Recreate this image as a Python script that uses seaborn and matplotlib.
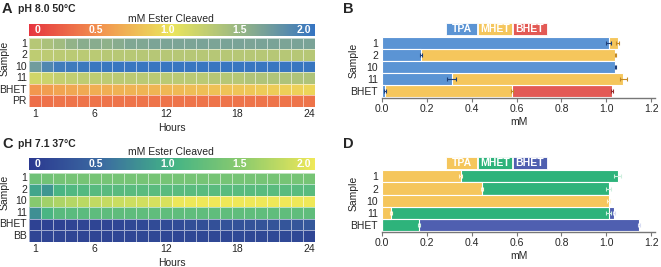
import numpy as np
import pandas as pd
import matplotlib
matplotlib.use("Agg")
import matplotlib.pyplot as plt
from matplotlib.colors import LinearSegmentedColormap
from matplotlib.patches import Rectangle
import seaborn as sns

# ---------------- data ----------------
hours = list(range(1, 25))
hour_ticks = [1, 6, 12, 18, 24]
cbar_ticks = [0, 0.5, 1.0, 1.5, 2.0]
cbar_labels = ["0", "0.5", "1.0", "1.5", "2.0"]

samples_A = ["1", "2", "10", "11", "BHET", "PR"]
A_1 = [1.30, 1.36, 1.42, 1.50, 1.55, 1.56, 1.52, 1.56, 1.60, 1.60, 1.62, 1.62,
       1.62, 1.62, 1.63, 1.62, 1.63, 1.63, 1.62, 1.63, 1.63, 1.62, 1.63, 1.63]
A_2 = [1.25, 1.26, 1.27, 1.28, 1.28, 1.28, 1.29, 1.29, 1.29, 1.30, 1.30, 1.30,
       1.30, 1.30, 1.30, 1.30, 1.30, 1.30, 1.30, 1.30, 1.30, 1.30, 1.30, 1.30]
A_10 = [1.68, 1.85, 1.93, 1.95, 1.96, 1.97, 1.97, 1.98, 1.98, 1.98, 1.98, 1.98,
        1.98, 1.98, 1.98, 1.98, 1.98, 1.98, 1.98, 1.98, 1.98, 1.98, 1.98, 1.98]
A_11 = [1.15, 1.18, 1.22, 1.24, 1.25, 1.25, 1.26, 1.27, 1.27, 1.28, 1.28, 1.28,
        1.28, 1.28, 1.28, 1.30, 1.30, 1.30, 1.33, 1.34, 1.34, 1.35, 1.35, 1.35]
A_BHET = [0.52, 0.56, 0.60, 0.62, 0.64, 0.66, 0.66, 0.68, 0.69, 0.70, 0.71, 0.72,
          0.74, 0.75, 0.76, 0.78, 0.79, 0.80, 0.82, 0.84, 0.85, 0.86, 0.88, 0.90]
A_PR = [0.30, 0.32, 0.33, 0.33, 0.33, 0.33, 0.33, 0.33, 0.33, 0.33, 0.33, 0.33,
        0.33, 0.33, 0.33, 0.33, 0.33, 0.33, 0.33, 0.33, 0.33, 0.33, 0.33, 0.33]

samples_C = ["1", "2", "10", "11", "BHET", "BB"]
C_1 = [1.30, 1.32, 1.34, 1.35, 1.35, 1.35, 1.35, 1.35, 1.35, 1.35, 1.35, 1.35,
       1.35, 1.35, 1.35, 1.35, 1.35, 1.35, 1.35, 1.35, 1.35, 1.35, 1.35, 1.35]
C_2 = [0.90, 0.80, 1.05, 1.10, 1.12, 1.14, 1.15, 1.15, 1.16, 1.16, 1.16, 1.16,
       1.16, 1.16, 1.16, 1.16, 1.16, 1.16, 1.16, 1.16, 1.16, 1.16, 1.16, 1.16]
C_10 = [1.45, 1.60, 1.66, 1.70, 1.73, 1.76, 1.78, 1.80, 1.82, 1.84, 1.86, 1.88,
        1.98, 1.99, 2.00, 2.00, 2.00, 2.00, 2.00, 2.00, 2.00, 2.00, 2.00, 2.00]
C_11 = [0.75, 1.05, 1.15, 1.16, 1.17, 1.18, 1.18, 1.19, 1.19, 1.20, 1.20, 1.20,
        1.20, 1.20, 1.20, 1.20, 1.20, 1.20, 1.20, 1.20, 1.20, 1.20, 1.20, 1.20]
C_BHET = [0.10, 0.10, 0.10, 0.11, 0.12, 0.12, 0.13, 0.14, 0.15, 0.17, 0.18, 0.19,
          0.20, 0.22, 0.22, 0.24, 0.25, 0.26, 0.27, 0.28, 0.28, 0.29, 0.30, 0.32]
C_BB = [0.12, 0.12, 0.12, 0.13, 0.12, 0.12, 0.13, 0.14, 0.14, 0.15, 0.15, 0.16,
        0.14, 0.15, 0.16, 0.16, 0.16, 0.17, 0.16, 0.16, 0.17, 0.17, 0.16, 0.12]

bar_samples = ["1", "2", "10", "11", "BHET"]
components = ["TPA", "MHET", "BHET"]
# panel B (pH 8.0) segment lengths in mM
B_TPA = [1.01, 0.175, 1.04, 0.31, 0.012]
B_MHET = [0.04, 0.865, 0.0, 0.765, 0.568]
B_BHET = [0.0, 0.0, 0.0, 0.0, 0.445]
B_TPA_err = [0.012, 0.004, 0.003, 0.02, 0.004]
B_MHET_err = [0.005, 0.003, 0.0, 0.015, 0.003]
B_BHET_err = [0.0, 0.0, 0.0, 0.0, 0.004]
# panel D (pH 7.1)
D_TPA = [0.35, 0.445, 1.01, 0.04, 0.0]
D_MHET = [0.70, 0.565, 0.0, 0.97, 0.165]
D_BHET = [0.0, 0.0, 0.0, 0.025, 0.98]
D_TPA_err = [0.005, 0.005, 0.008, 0.003, 0.0]
D_MHET_err = [0.015, 0.01, 0.0, 0.01, 0.003]
D_BHET_err = [0.0, 0.0, 0.0, 0.005, 0.005]

# ---------------- style ----------------
sns.set_style("white")
plt.rcParams["font.family"] = ["Liberation Sans", "DejaVu Sans"]

W, H = 661, 267
fig = plt.figure(figsize=(W / 100, H / 100), dpi=100)
FS = 7.5


def rect(x0, y0, x1, y1):
    """pixel box (top-left origin) -> figure fraction rect"""
    return [x0 / W, 1 - y1 / H, (x1 - x0) / W, (y1 - y0) / H]


cmap_A = LinearSegmentedColormap.from_list(
    "A", ["#e6353f", "#f2944f", "#ebe55c", "#93b487", "#3574c2"])
cmap_C = LinearSegmentedColormap.from_list(
    "C", ["#2b3990", "#3b6aa1", "#42b386", "#8dcb6d", "#efe858"])


def heat(ax_box, cax_box, samples, rows, cmap, top):
    ax = fig.add_axes(rect(*ax_box))
    cax = fig.add_axes(rect(*cax_box))
    df = pd.DataFrame(rows, index=samples, columns=hours)
    sns.heatmap(df, ax=ax, cmap=cmap, vmin=0, vmax=2, cbar_ax=cax,
                cbar_kws={"orientation": "horizontal"},
                linewidths=0.7, linecolor=(1, 1, 1, 0.55),
                xticklabels=True, yticklabels=True)
    ax.set_xticks([hours.index(h) + 0.5 for h in hour_ticks])
    ax.set_xticklabels([str(h) for h in hour_ticks], rotation=0, fontsize=FS)
    ax.set_yticks([i + 0.5 for i in range(len(samples))])
    ax.set_yticklabels(samples, rotation=0, fontsize=FS)
    ax.tick_params(length=0, pad=1.5)
    ax.set_xlabel("Hours", fontsize=FS, labelpad=3)
    ax.set_ylabel("Sample", fontsize=FS)
    ax.yaxis.set_label_coords(-0.068, 0.71)
    cb = ax.collections[0].colorbar
    cb.outline.set_visible(False)
    cax.set_xticks([])
    cax.set_yticks([])
    for v, lab in zip(cbar_ticks, cbar_labels):
        ha = "left" if v == cbar_ticks[0] else ("right" if v == cbar_ticks[-1] else "center")
        off = 0.04 if ha == "left" else -0.03
        cax.text(v + off, 0.5, lab, color="white", fontsize=7.5, fontweight="bold",
                 ha=ha, va="center", transform=cax.get_xaxis_transform())
    fig.text(0.259, 1 - top / H, "mM Ester Cleaved", fontsize=FS,
             ha="center", va="center")
    return ax


heat((29, 38, 315, 107), (29, 24, 315, 36), samples_A,
     [A_1, A_2, A_10, A_11, A_BHET, A_PR], cmap_A, 18.5)
heat((29, 172.5, 315, 241.5), (29, 158.3, 315, 170), samples_C,
     [C_1, C_2, C_10, C_11, C_BHET, C_BB], cmap_C, 152)


def stacked(ax_box, segs, errs, colors, ecolors, leg_y):
    ax = fig.add_axes(rect(*ax_box))
    cums = np.cumsum(np.array(segs), axis=0)
    for i in range(len(components) - 1, -1, -1):
        sns.barplot(x=cums[i], y=bar_samples, orient="h", ax=ax,
                    color=colors[i], saturation=1, width=1.0,
                    edgecolor="white", linewidth=0.8, errorbar=None)
    for i in range(len(components)):
        for j in range(len(bar_samples)):
            if errs[i][j] > 0:
                ax.errorbar(cums[i][j], j, xerr=errs[i][j], fmt="none",
                            ecolor=ecolors[i], elinewidth=0.8, capsize=1.5,
                            capthick=0.8)
    ax.set_xlim(0, 1.217)
    ax.set_ylim(4.55, -0.52)
    ax.set_xticks([0, 0.2, 0.4, 0.6, 0.8, 1.0, 1.2])
    ax.set_xticklabels(["0.0", "0.2", "0.4", "0.6", "0.8", "1.0", "1.2"])
    ax.tick_params(axis="x", labelsize=FS, length=3, width=0.8, color="#777777",
                   pad=1.5, bottom=True)
    ax.tick_params(axis="y", labelsize=FS, length=0, pad=3)
    for s in ["top", "right", "left"]:
        ax.spines[s].set_visible(False)
    ax.spines["bottom"].set_color("#777777")
    ax.spines["bottom"].set_linewidth(1.0)
    ax.set_xlabel("mM", fontsize=FS, labelpad=2)
    ax.set_ylabel("Sample", fontsize=FS)
    ax.yaxis.set_label_coords(-0.085, 0.62)
    # legend boxes
    xs = [(446, 477), (478, 512), (513, 547)]
    for (x0, x1), c, lab in zip(xs, colors, components):
        fig.patches.append(Rectangle((x0 / W, 1 - (leg_y + 12) / H), (x1 - x0) / W,
                                     12 / H, transform=fig.transFigure,
                                     facecolor=c, edgecolor="white", lw=0.6))
        fig.text((x0 + x1) / 2 / W, 1 - (leg_y + 6) / H, lab, color="white",
                 fontsize=7.5, fontweight="bold", ha="center", va="center")
    return ax


stacked((382, 37, 655, 98), [B_TPA, B_MHET, B_BHET],
        [B_TPA_err, B_MHET_err, B_BHET_err],
        ["#5b94d4", "#f5c65c", "#e35a55"], ["#1f3f78", "#c48a25", "#9a2b2b"], 23)
stacked((382, 170, 655, 232), [D_TPA, D_MHET, D_BHET],
        [D_TPA_err, D_MHET_err, D_BHET_err],
        ["#f5c65c", "#2eb37b", "#4f5fb0"], ["#fff3d0", "#cdeedd", "#d8dcf3"], 156.5)

# panel letters and titles
for x, y, t in [(2, 9, "A"), (343, 9, "B"), (2, 144, "C"), (343, 144, "D")]:
    fig.text(x / W, 1 - y / H, t, fontsize=10.5, fontweight="bold", va="center")
fig.text(18 / W, 1 - 9 / H, "pH 8.0 50\u00b0C", fontsize=7.5, fontweight="bold", va="center")
fig.text(18 / W, 1 - 144 / H, "pH 7.1 37\u00b0C", fontsize=7.5, fontweight="bold", va="center")

fig.savefig("out.png", dpi=100)
